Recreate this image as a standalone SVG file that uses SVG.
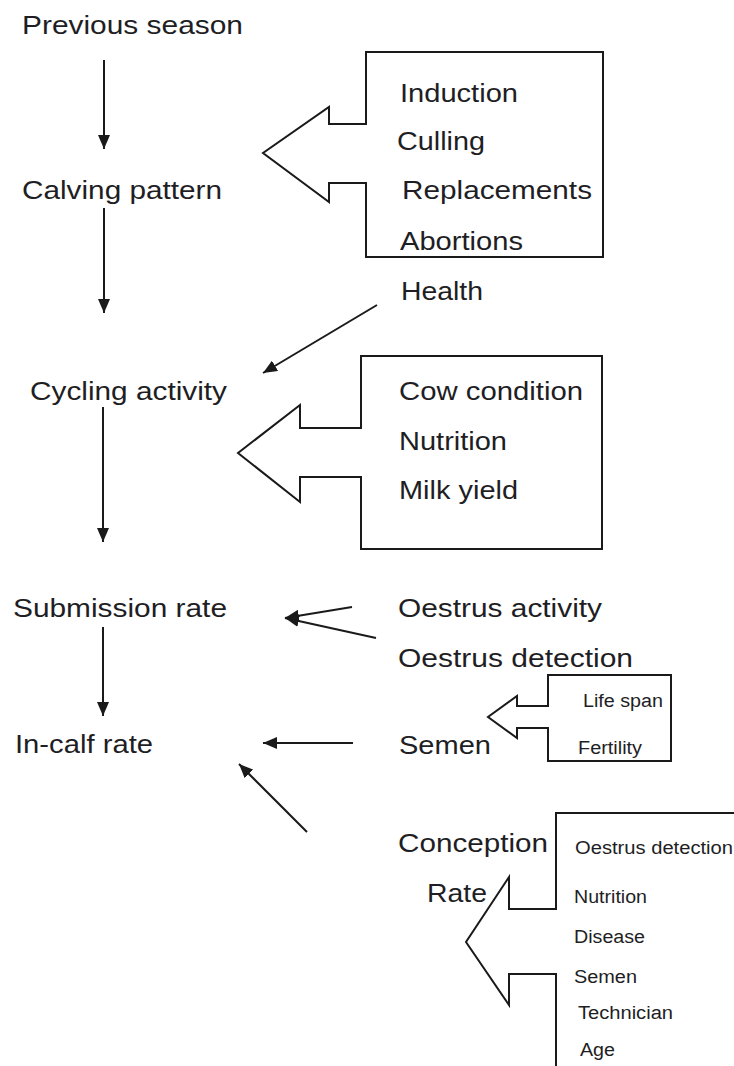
<svg xmlns="http://www.w3.org/2000/svg" width="734" height="1066" viewBox="0 0 734 1066">
<style>
text{font-family:"Liberation Sans",Arial,sans-serif;fill:#1e1e24;lengthAdjust:spacingAndGlyphs}
.big{font-size:25px}
.sm{font-size:18px}
.shape{fill:none;stroke:#1a1a1a;stroke-width:2;stroke-linejoin:miter}
.conn line{stroke:#1a1a1a;stroke-width:2}
</style>
<defs>
<marker id="ah" viewBox="0 0 14 12" refX="14" refY="6" markerWidth="14" markerHeight="12" markerUnits="userSpaceOnUse" orient="auto">
<path d="M0,0 L14,6 L0,12 z" fill="#1a1a1a"/>
</marker>
</defs>
<rect width="734" height="1066" fill="#ffffff"/>

<g id="previous-season"><text class="big" x="22" y="34" textLength="221" lengthAdjust="spacingAndGlyphs">Previous season</text></g>
<g id="calving-pattern"><text class="big" x="22" y="199" textLength="200" lengthAdjust="spacingAndGlyphs">Calving pattern</text></g>
<g id="cycling-activity"><text class="big" x="30" y="400" textLength="197" lengthAdjust="spacingAndGlyphs">Cycling activity</text></g>
<g id="submission-rate"><text class="big" x="13" y="617" textLength="214" lengthAdjust="spacingAndGlyphs">Submission rate</text></g>
<g id="in-calf-rate"><text class="big" x="15" y="753" textLength="138" lengthAdjust="spacingAndGlyphs">In-calf rate</text></g>

<g id="calving-factors">
<polygon class="shape" points="366,52 603,52 603,257 366,257 366,183 329,183 329,202 263,153 329,107 329,124 366,124"/>
<text class="big" x="400" y="102" textLength="118" lengthAdjust="spacingAndGlyphs">Induction</text>
<text class="big" x="397" y="150" textLength="88" lengthAdjust="spacingAndGlyphs">Culling</text>
<text class="big" x="402" y="199" textLength="190" lengthAdjust="spacingAndGlyphs">Replacements</text>
<text class="big" x="400" y="250" textLength="123" lengthAdjust="spacingAndGlyphs">Abortions</text>
</g>

<g id="health"><text class="big" x="401" y="300" textLength="82" lengthAdjust="spacingAndGlyphs">Health</text></g>

<g id="cycling-factors">
<polygon class="shape" points="361,356 602,356 602,549 361,549 361,477 300,477 300,502 238,453 300,405 300,428 361,428"/>
<text class="big" x="399" y="400" textLength="184" lengthAdjust="spacingAndGlyphs">Cow condition</text>
<text class="big" x="399" y="450" textLength="108" lengthAdjust="spacingAndGlyphs">Nutrition</text>
<text class="big" x="399" y="499" textLength="119" lengthAdjust="spacingAndGlyphs">Milk yield</text>
</g>

<g id="oestrus-activity"><text class="big" x="398" y="617" textLength="204" lengthAdjust="spacingAndGlyphs">Oestrus activity</text></g>
<g id="oestrus-detection"><text class="big" x="398" y="667" textLength="235" lengthAdjust="spacingAndGlyphs">Oestrus detection</text></g>
<g id="semen"><text class="big" x="399" y="754" textLength="92" lengthAdjust="spacingAndGlyphs">Semen</text></g>

<g id="semen-factors">
<polygon class="shape" points="548,675 671,675 671,761 548,761 548,728 517,728 517,738 488,717 517,696 517,706 548,706"/>
<text class="sm" x="583" y="707" textLength="80" lengthAdjust="spacingAndGlyphs">Life span</text>
<text class="sm" x="578" y="754" textLength="64" lengthAdjust="spacingAndGlyphs">Fertility</text>
</g>

<g id="conception-rate">
<text class="big" x="398" y="852" textLength="150" lengthAdjust="spacingAndGlyphs">Conception</text>
<text class="big" x="427" y="902" textLength="60" lengthAdjust="spacingAndGlyphs">Rate</text>
</g>

<g id="conception-factors">
<path class="shape" d="M734,813 L556,813 L556,909 L509,909 L509,877 L466,942 L509,1005 L509,974 L556,974 L556,1066"/>
<text class="sm" x="575" y="854" textLength="158" lengthAdjust="spacingAndGlyphs">Oestrus detection</text>
<text class="sm" x="574" y="903" textLength="73" lengthAdjust="spacingAndGlyphs">Nutrition</text>
<text class="sm" x="574" y="943" textLength="71" lengthAdjust="spacingAndGlyphs">Disease</text>
<text class="sm" x="574" y="983" textLength="63" lengthAdjust="spacingAndGlyphs">Semen</text>
<text class="sm" x="578" y="1019" textLength="95" lengthAdjust="spacingAndGlyphs">Technician</text>
<text class="sm" x="580" y="1056" textLength="35" lengthAdjust="spacingAndGlyphs">Age</text>
</g>

<g id="connectors" class="conn">
<line x1="104" y1="60" x2="104" y2="149" marker-end="url(#ah)"/>
<line x1="104" y1="208" x2="104" y2="313" marker-end="url(#ah)"/>
<line x1="103" y1="407" x2="103" y2="542" marker-end="url(#ah)"/>
<line x1="103" y1="627" x2="103" y2="716" marker-end="url(#ah)"/>
<line x1="377" y1="305" x2="263" y2="373" marker-end="url(#ah)"/>
<line x1="352" y1="607" x2="285" y2="618" marker-end="url(#ah)"/>
<line x1="376" y1="638" x2="285" y2="618" marker-end="url(#ah)"/>
<line x1="353" y1="743" x2="263" y2="743" marker-end="url(#ah)"/>
<line x1="307" y1="832" x2="239" y2="764" marker-end="url(#ah)"/>
</g>
</svg>
